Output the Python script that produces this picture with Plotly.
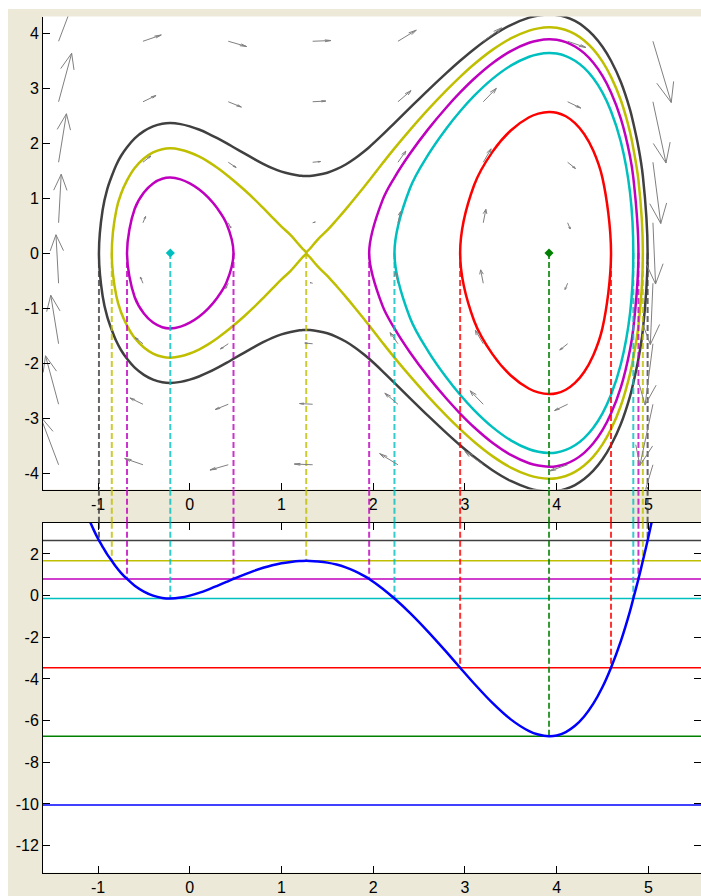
import numpy as np
import plotly.graph_objects as go

# ---------------- data ----------------
# potential V(x) (blue curve of the lower panel), including the turning points
X_V = [-1.10, -1.05, -1.00, -0.99, -0.95, -0.90, -0.85, -0.80, -0.75, -0.684,
       -0.60, -0.50, -0.40, -0.30, -0.212, -0.10, 0.00, 0.10, 0.20, 0.30,
       0.40, 0.477, 0.60, 0.70, 0.80, 0.90, 1.00, 1.10, 1.20, 1.23,
       1.27, 1.31, 1.40, 1.50, 1.60, 1.70, 1.80, 1.90, 1.956, 2.10,
       2.232, 2.40, 2.60, 2.80, 2.948, 3.10, 3.30, 3.50, 3.70, 3.80,
       3.917, 4.00, 4.10, 4.20, 4.30, 4.40, 4.50, 4.593, 4.70, 4.80,
       4.836, 4.892, 4.94, 4.992, 5.05]
V_X = [3.68, 3.18, 2.73, 2.65, 2.345, 1.98, 1.67, 1.36, 1.095, 0.80,
       0.477, 0.196, 0.00, -0.11, -0.14, -0.095, 0.00, 0.13, 0.29, 0.47,
       0.656, 0.80, 1.02, 1.185, 1.335, 1.46, 1.555, 1.617, 1.661, 1.667,
       1.67, 1.667, 1.638, 1.584, 1.49, 1.355, 1.175, 0.948, 0.80, 0.347,
       -0.14, -0.827, -1.737, -2.713, -3.46, -4.218, -5.15, -5.94, -6.505, -6.67,
       -6.75, -6.713, -6.55, -6.25, -5.80, -5.186, -4.387, -3.46, -2.185, -0.747,
       -0.14, 0.80, 1.67, 2.65, 3.81]

# energy levels (horizontal lines of the lower panel) and their colours
LEVELS = [-10.05, -6.75, -3.46, -0.14, 0.80, 1.67, 2.65]
LEVEL_COLORS = ['#0000FF', '#008000', '#FF0000', '#00BFBF', '#BF00BF', '#BFBF00', '#404040']

# quiver grid (upper panel) and dV/dx at each column (read from arrow slopes)
Q_X = [-1.43, -0.51, 0.42, 1.34, 2.27, 3.20, 4.12, 5.05]
Q_P = [-3.85, -2.75, -1.65, -0.55, 0.55, 1.65, 2.75, 3.85]
Q_DVDX = [-17.0, -2.2, 1.85, -0.25, -3.9, -4.7, 2.2, 21.5]

X_TICKS = [-1, 0, 1, 2, 3, 4, 5]
Y_TICKS_TOP = [-4, -3, -2, -1, 0, 1, 2, 3, 4]
Y_TICKS_BOT = [-12, -10, -8, -6, -4, -2, 0, 2]

# ---------------- layout constants ----------------
W, H = 701, 896
X_RANGE = [-1.6, 5.574]
TOP_RANGE = [-4.3, 4.3]
BOT_RANGE = [-13.3, 3.5]
LEFT_PX = 43
TOP_PX = (16.5, 489.5)
BOT_PX = (522.7, 872.7)
BEIGE = '#ECE9D8'
FONT = dict(family='Liberation Sans, Arial, sans-serif', size=16, color='black')


def py(p):
    return (H - p) / H


xv = np.array(X_V)
vv = np.array(V_X)

fig = go.Figure()

# ---------------- upper panel: phase curves ----------------
for E, col in zip(LEVELS, LEVEL_COLORS):
    below = vv < E - 1e-9
    on = np.abs(vv - E) < 1e-9
    n = len(xv)
    i = 0
    while i < n:
        if below[i]:
            j = i
            while j + 1 < n and below[j + 1]:
                j += 1
            a = i - 1 if (i - 1 >= 0 and on[i - 1]) else i
            b = j + 1 if (j + 1 < n and on[j + 1]) else j
            xs = xv[a:b + 1]
            ps = np.sqrt(np.clip(2 * (E - vv[a:b + 1]), 0, None))
            left_saddle = (a < i) and (a - 1 >= 0) and bool(below[a - 1])
            right_saddle = (b > j) and (b + 1 < n) and bool(below[b + 1])
            if right_saddle and not left_saddle:
                xs = xs[::-1]
                ps = ps[::-1]
            up_x = list(xs)
            up_p = list(ps)
            lo_x = list(xs[-2:0:-1])
            lo_p = list(-ps[-2:0:-1])
            lx = up_x + lo_x + [xs[0]]
            lp = up_p + lo_p + [ps[0]]
            if not (left_saddle or right_saddle):
                k = int(np.argmax(up_p))
                m = len(lx) - 1
                lx = lx[k:m] + lx[:k] + [lx[k]]
                lp = lp[k:m] + lp[:k] + [lp[k]]
            fig.add_trace(go.Scatter(x=lx, y=lp, mode='lines', xaxis='x', yaxis='y',
                                     line=dict(color=col, width=2.5, shape='spline', smoothing=1.0),
                                     hoverinfo='skip', showlegend=False))
            i = j + 1
        else:
            i += 1

# equilibrium points (minima of V that sit exactly on a level)
for E, col in zip(LEVELS, LEVEL_COLORS):
    for k in range(1, len(xv) - 1):
        if abs(vv[k] - E) < 1e-9 and vv[k - 1] > E and vv[k + 1] > E:
            fig.add_trace(go.Scatter(x=[xv[k]], y=[0], mode='markers', xaxis='x', yaxis='y',
                                     marker=dict(color=col, size=7, symbol='diamond'),
                                     hoverinfo='skip', showlegend=False))

# ---------------- dashed verticals (turning points) ----------------
shapes = []
for E, col in zip(LEVELS, LEVEL_COLORS):
    for k in range(len(xv)):
        if abs(vv[k] - E) < 1e-9:
            xt = xv[k]
            dash = dict(color=col, width=2, dash='6px,3px')
            fig.add_trace(go.Scatter(x=[xt, xt], y=[0, TOP_RANGE[0]], mode='lines', xaxis='x', yaxis='y',
                                     line=dash, opacity=0.8, hoverinfo='skip', showlegend=False))
            fig.add_trace(go.Scatter(x=[xt, xt], y=[BOT_RANGE[1], E], mode='lines', xaxis='x2', yaxis='y2',
                                     line=dash, opacity=0.8, hoverinfo='skip', showlegend=False))
            shapes.append(dict(type='line', xref='x', yref='paper', x0=xt, x1=xt,
                               y0=py(BOT_PX[0]), y1=py(TOP_PX[1]), line=dash, opacity=0.8, layer='above'))

# ---------------- quiver ----------------
QXg, QPg = np.meshgrid(np.array(Q_X), np.array(Q_P))
U = QPg
Vf = -np.meshgrid(np.array(Q_DVDX), np.array(Q_P))[0]
nq = len(Q_X)
delx = (max(Q_X) - min(Q_X)) / nq
dely = (max(Q_P) - min(Q_P)) / len(Q_P)
maxlen = np.sqrt((U ** 2 + Vf ** 2) / (delx ** 2 + dely ** 2)).max()
s = 0.9 / maxlen
u = U * s
v = Vf * s
alpha, beta = 0.33, 0.25
ax, ay = [], []
for x0, y0, uu, vv_ in zip(QXg.ravel(), QPg.ravel(), u.ravel(), v.ravel()):
    ax += [x0, x0 + uu, None]
    ay += [y0, y0 + vv_, None]
    ax += [x0 + uu - alpha * (uu + beta * vv_), x0 + uu, x0 + uu - alpha * (uu - beta * vv_), None]
    ay += [y0 + vv_ - alpha * (vv_ - beta * uu), y0 + vv_, y0 + vv_ - alpha * (vv_ + beta * uu), None]
fig.add_trace(go.Scatter(x=ax, y=ay, mode='lines', xaxis='x', yaxis='y',
                         line=dict(color='#808080', width=1), hoverinfo='skip', showlegend=False))

# ---------------- lower panel ----------------
for E, col in zip(LEVELS, LEVEL_COLORS):
    shapes.append(dict(type='line', xref='x2 domain', yref='y2', x0=0, x1=1, y0=E, y1=E,
                       line=dict(color=col, width=1.5), layer='below'))
fig.add_trace(go.Scatter(x=X_V, y=V_X, mode='lines', xaxis='x2', yaxis='y2',
                         line=dict(color='#0000FF', width=2.5, shape='spline', smoothing=0.8),
                         hoverinfo='skip', showlegend=False))

# backgrounds
shapes = [dict(type='rect', xref='paper', yref='paper', x0=8 / W, x1=1, y0=0, y1=py(9),
               fillcolor=BEIGE, line=dict(width=0), layer='below'),
          dict(type='rect', xref='x domain', yref='y domain', x0=0, x1=1, y0=0, y1=1,
               fillcolor='white', line=dict(width=0), layer='below'),
          dict(type='rect', xref='x2 domain', yref='y2 domain', x0=0, x1=1, y0=0, y1=1,
               fillcolor='white', line=dict(width=0), layer='below')] + shapes

axis_common = dict(showgrid=False, zeroline=False, ticks='inside', ticklen=7, tickwidth=1,
                   tickcolor='black', showline=True, linecolor='black', linewidth=1,
                   tickfont=FONT)
xdom = [LEFT_PX / W, 1.0]


def labels(vals):
    return [str(t) for t in vals]


fig.update_layout(
    width=W, height=H, margin=dict(l=0, r=0, t=0, b=0, pad=0),
    paper_bgcolor='white', plot_bgcolor='white', showlegend=False,
    xaxis=dict(domain=xdom, range=X_RANGE, anchor='y', tickvals=X_TICKS, ticktext=labels(X_TICKS),
               mirror=False, **axis_common),
    yaxis=dict(domain=[py(TOP_PX[1]), py(TOP_PX[0])], range=TOP_RANGE, anchor='x',
               tickvals=Y_TICKS_TOP, ticktext=labels(Y_TICKS_TOP), mirror=False, **axis_common),
    xaxis2=dict(domain=xdom, range=X_RANGE, anchor='y2', tickvals=X_TICKS, ticktext=labels(X_TICKS),
                mirror='ticks', **axis_common),
    yaxis2=dict(domain=[py(BOT_PX[1]), py(BOT_PX[0])], range=BOT_RANGE, anchor='x2',
                tickvals=Y_TICKS_BOT, ticktext=labels(Y_TICKS_BOT), mirror='ticks', **axis_common),
    shapes=shapes,
)
fig.write_html('out.html')
